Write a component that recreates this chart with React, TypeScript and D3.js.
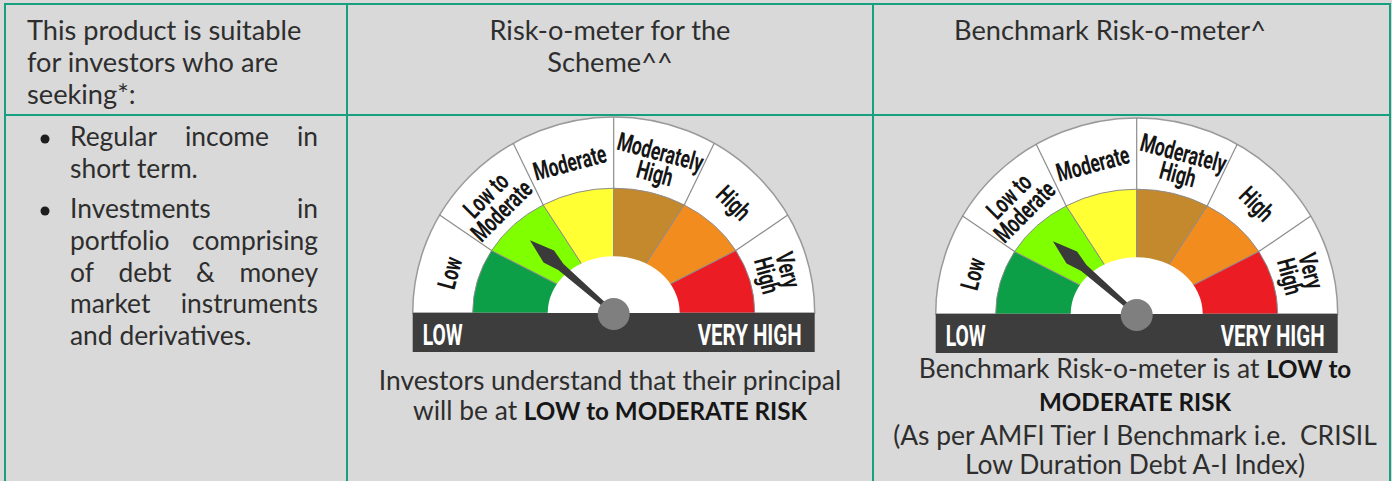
import React from 'react';
import * as d3 from 'd3';

// table text
const headerSuitable = ['This product is suitable', 'for investors who are', 'seeking*:'];
const headerScheme = ['Risk-o-meter for the', 'Scheme^^'];
const headerBenchmark = ['Benchmark Risk-o-meter^'];

const suitabilityBullets = [
  ['Regular income in', 'short term.'],
  ['Investments in', 'portfolio comprising', 'of debt & money', 'market instruments', 'and derivatives.'],
];

// risk-o-meter
const riskLevels = [
  ['Low'],
  ['Low to', 'Moderate'],
  ['Moderate'],
  ['Moderately', 'High'],
  ['High'],
  ['Very', 'High'],
];
const riskColors = ['#0c9f47', '#80ff00', '#ffff33', '#c4892d', '#f28c1f', '#ec1c24'];
const schemeNeedleDeg = 41; // degrees from LOW end
const benchmarkNeedleDeg = 41;

// captions: [text, bold][] per line
const schemeCaption: [string, boolean][][] = [
  [['Investors understand that their principal', false]],
  [['will be at ', false], ['LOW to MODERATE RISK', true]],
];
const benchmarkCaption: [string, boolean][][] = [
  [['Benchmark Risk-o-meter is at ', false], ['LOW to', true]],
  [['MODERATE RISK', true]],
  [['(As per AMFI Tier I Benchmark i.e.  CRISIL', false]],
  [['Low Duration Debt A-I Index)', false]],
];

const W = 1392;
const H = 481;
const FONT = 'Lato, "Open Sans", sans-serif';
const TEXT = '#2e2e2e';
const BORDER = '#16a07f';

const App: React.FC = () => {
  const svgRef = React.useRef<SVGSVGElement>(null);

  React.useEffect(() => {
    document.body.style.margin = '0';
    const svg = d3.select(svgRef.current);
    svg.selectAll('*').remove();

    svg.append('rect').attr('width', W).attr('height', H).attr('fill', '#d9d9d9');

    // header text
    const hdr = svg.append('g').attr('font-family', FONT).attr('font-size', 27.2).attr('fill', TEXT);
    headerSuitable.forEach((t, i) => {
      hdr.append('text').attr('x', 27).attr('y', 40 + i * 32).text(t);
    });
    headerScheme.forEach((t, i) => {
      hdr.append('text').attr('x', 610).attr('y', 40 + i * 32).attr('text-anchor', 'middle').text(t);
    });
    headerBenchmark.forEach((t, i) => {
      hdr.append('text').attr('x', 1110).attr('y', 40 + i * 32).attr('text-anchor', 'middle').text(t);
    });

    // bullets, justified
    const body = svg.append('g').attr('font-family', FONT).attr('font-size', 26.4).attr('fill', TEXT);
    const left = 70;
    const right = 318;
    const bulletTops = [146, 218];
    suitabilityBullets.forEach((lines, b) => {
      body.append('circle').attr('cx', 45).attr('cy', bulletTops[b] - 7).attr('r', 4.5).attr('fill', '#1e1e1e');
      lines.forEach((line, li) => {
        const y = bulletTops[b] + li * 31.75;
        const words = line.split(' ');
        if (li === lines.length - 1 || words.length < 2) {
          body.append('text').attr('x', left).attr('y', y).text(line);
          return;
        }
        const nodes = words.map((w) => body.append('text').attr('y', y).text(w));
        const widths = nodes.map((n) => (n.node() as SVGTextElement).getComputedTextLength());
        const gap = (right - left - d3.sum(widths)) / (words.length - 1);
        let x = left;
        nodes.forEach((n, k) => {
          n.attr('x', x);
          x += widths[k] + gap;
        });
      });
    });

    // captions
    const caption = (lines: [string, boolean][][], cx: number, ys: number[]) => {
      lines.forEach((parts, i) => {
        const t = body
          .append('text')
          .attr('x', cx)
          .attr('y', ys[i])
          .attr('text-anchor', 'middle')
          .style('white-space', 'pre');
        parts.forEach(([s, bold]) => {
          t.append('tspan')
            .attr('font-weight', bold ? 700 : 400)
            .attr('font-size', bold ? 24.2 : null)
            .attr('fill', bold ? '#161616' : TEXT)
            .text(s);
        });
      });
    };
    caption(schemeCaption, 610, [390, 420]);
    caption(benchmarkCaption, 1135, [378, 411, 445, 474]);

    // gauges
    const drawGauge = (cx: number, cy: number, needleDeg: number) => {
      const g = svg.append('g').attr('transform', `translate(${cx},${cy})`);
      const rOut = 201;
      const kOut = 0.975;
      const rCol = 141;
      const kCol = 0.885;
      const rIn = 66;
      const kIn = 0.86;
      const n = riskLevels.length;
      const sector = d3.scaleLinear().domain([0, n]).range([-Math.PI / 2, Math.PI / 2]);
      const deg = d3.scaleLinear().domain([0, n]).range([0, 180]);
      const pt = (a: number, rx: number, ry: number): [number, number] => [
        -Math.cos((a * Math.PI) / 180) * rx,
        -Math.sin((a * Math.PI) / 180) * ry,
      ];
      const arc = d3.arc<any>();
      const half = { startAngle: -Math.PI / 2, endAngle: Math.PI / 2, innerRadius: 0 };

      g.append('path')
        .attr('d', arc({ ...half, outerRadius: rOut }))
        .attr('transform', `scale(1,${kOut})`)
        .attr('fill', '#fff')
        .attr('stroke', '#9a9a9a')
        .attr('stroke-width', 1.5)
        .attr('vector-effect', 'non-scaling-stroke');

      g.selectAll('path.band')
        .data(riskColors)
        .join('path')
        .attr('class', 'band')
        .attr('d', (_, i) =>
          arc({ innerRadius: 0, outerRadius: rCol, startAngle: sector(i), endAngle: sector(i + 1) })
        )
        .attr('transform', `scale(1,${kCol})`)
        .attr('fill', (d) => d)
        .attr('stroke', '#8c8c8c')
        .attr('stroke-width', 1)
        .attr('vector-effect', 'non-scaling-stroke');

      d3.range(1, n).forEach((i) => {
        const a = pt(deg(i), rCol, rCol * kCol);
        const b = pt(deg(i), rOut, rOut * kOut);
        g.append('line')
          .attr('x1', a[0]).attr('y1', a[1])
          .attr('x2', b[0]).attr('y2', b[1])
          .attr('stroke', '#8c8c8c')
          .attr('stroke-width', 1.2);
      });

      g.append('path')
        .attr('d', arc({ ...half, outerRadius: rIn }))
        .attr('transform', `scale(1,${kIn})`)
        .attr('fill', '#fff');

      // labels
      riskLevels.forEach((lines, i) => {
        const a = deg(i + 0.5);
        const [x, y] = pt(a, 170, 156);
        const lg = g
          .append('g')
          .attr('transform', `translate(${x},${y}) rotate(${a - 90}) scale(0.68,1)`);
        lines.forEach((l, k) => {
          lg.append('text')
            .attr('y', (k - (lines.length - 1) / 2) * 22)
            .attr('dy', '0.36em')
            .attr('text-anchor', 'middle')
            .attr('font-family', 'Roboto, sans-serif')
            .attr('font-weight', 700)
            .attr('font-size', 25.5)
            .attr('fill', '#151515')
            .text(l);
        });
      });

      // bar
      g.append('rect').attr('x', -201).attr('y', 0).attr('width', 402).attr('height', 39).attr('fill', '#3d3d3d');
      const barText = g
        .append('g')
        .attr('font-family', 'Roboto, sans-serif')
        .attr('font-weight', 700)
        .attr('font-size', 30)
        .attr('fill', '#fff');
      barText.append('text').attr('x', -191).attr('y', 32).attr('textLength', 40)
        .attr('lengthAdjust', 'spacingAndGlyphs').text('LOW');
      barText.append('text').attr('x', 188).attr('y', 32).attr('text-anchor', 'end').attr('textLength', 104)
        .attr('lengthAdjust', 'spacingAndGlyphs').text('VERY HIGH');

      // needle
      const needle = d3.line()([
        [0, -2], [-70, -4], [-86, -8], [-111, 0], [-86, 8], [-70, 4], [0, 2],
      ]);
      g.append('path')
        .attr('d', needle + 'Z')
        .attr('transform', `rotate(${needleDeg})`)
        .attr('fill', '#3a3a3a');
      g.append('circle').attr('cx', 0).attr('cy', 1).attr('r', 16).attr('fill', '#7f7f7f');
    };
    drawGauge(613.7, 313, schemeNeedleDeg);
    drawGauge(1136.7, 314, benchmarkNeedleDeg);

    // borders
    const b = svg.append('g').attr('stroke', BORDER).attr('stroke-width', 2);
    b.append('line').attr('x1', 5).attr('x2', 1390).attr('y1', 4).attr('y2', 4);
    b.append('line').attr('x1', 5).attr('x2', 1390).attr('y1', 115).attr('y2', 115);
    [5, 347, 873, 1390].forEach((x) => {
      b.append('line').attr('x1', x).attr('x2', x).attr('y1', 3).attr('y2', H);
    });
  }, []);

  return <svg ref={svgRef} width={W} height={H} style={{ display: 'block' }} />;
};

export default App;
